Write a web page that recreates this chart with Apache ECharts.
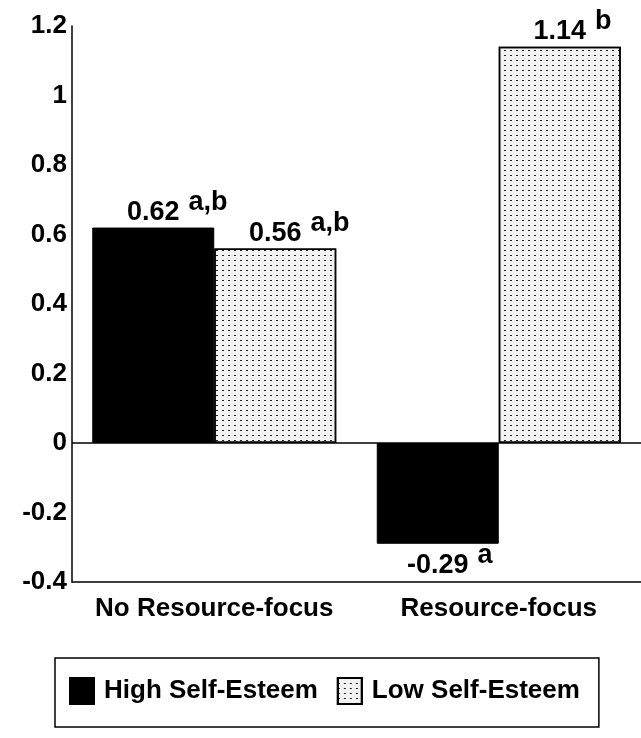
<!DOCTYPE html>
<html>
<head>
<meta charset="utf-8">
<script src="https://cdn.jsdelivr.net/npm/echarts@6/dist/echarts.min.js"></script>
<style>
html,body{margin:0;padding:0;background:#fff;}
#chart{width:641px;height:738px;}
</style>
</head>
<body>
<div id="chart"></div>
<script>
const categories = ['No Resource-focus', 'Resource-focus'];
const seriesNames = ['High Self-Esteem', 'Low Self-Esteem'];
const highValues = [0.62, -0.29];
const lowValues = [0.56, 1.14];
const highSup = ['a,b', 'a'];
const lowSup = ['a,b', 'b'];
const yMin = -0.4, yMax = 1.2, yInterval = 0.2;

const FONT = '"Liberation Sans", Arial, sans-serif';

function labelRich() {
  return {
    v: { fontSize: 27, fontWeight: 'bold', fontFamily: FONT, color: '#000', lineHeight: 26, padding: [10, 0, 0, 0] },
    s: { fontSize: 27, fontWeight: 'bold', fontFamily: FONT, color: '#000', lineHeight: 26, padding: [0, 0, 10, 9] },
    h: { fontSize: 27, fontWeight: 'bold', fontFamily: FONT, color: 'transparent', lineHeight: 26, padding: [0, 9, 10, 0] }
  };
}

function buildData(values, sups) {
  return values.map(function (v, i) {
    const txt = '{h|' + sups[i] + '}{v|' + v.toFixed(2) + '}{s|' + sups[i] + '}';
    return {
      value: v,
      label: {
        show: true,
        position: v >= 0 ? 'top' : 'bottom',
        distance: v >= 0 ? 7 : 4,
        formatter: txt,
        rich: labelRich()
      }
    };
  });
}

const chart = echarts.init(document.getElementById('chart'), null, { renderer: 'canvas' });
chart.setOption({
  animation: false,
  backgroundColor: '#fff',
  textStyle: { fontFamily: FONT },
  grid: { left: 72, right: 0, top: 26, bottom: 156, outerBoundsMode: 'none' },
  legend: {
    data: seriesNames,
    left: 55,
    top: 658,
    orient: 'horizontal',
    borderColor: '#000',
    borderWidth: 1.5,
    padding: [19, 19, 22, 14],
    itemWidth: 24,
    itemHeight: 26,
    itemGap: 19,
    icon: 'rect',
    textStyle: { fontSize: 26, fontWeight: 'bold', color: '#000', fontFamily: FONT, padding: [0, 0, 0, 5] }
  },
  xAxis: {
    type: 'category',
    data: categories,
    axisLine: { show: true, onZero: false, lineStyle: { color: '#000', width: 1.5 } },
    axisTick: { show: false },
    axisLabel: { interval: 0, fontSize: 26, fontWeight: 'bold', color: '#000', margin: 14, fontFamily: FONT }
  },
  yAxis: {
    type: 'value',
    min: yMin,
    max: yMax,
    interval: yInterval,
    axisLine: { show: true, lineStyle: { color: '#000', width: 1.5 } },
    axisTick: { show: false },
    splitLine: { show: false },
    axisLabel: { fontSize: 26, fontWeight: 'bold', color: '#000', margin: 5, fontFamily: FONT }
  },
  series: [
    {
      name: seriesNames[0],
      type: 'bar',
      barWidth: 122,
      barGap: '0%',
      itemStyle: { color: '#000', borderColor: '#000', borderWidth: 1 },
      data: buildData(highValues, highSup),
      markLine: {
        silent: true,
        symbol: ['none', 'none'],
        label: { show: false },
        lineStyle: { color: '#000', width: 1.5, type: 'solid' },
        data: [{ yAxis: 0 }]
      }
    },
    {
      name: seriesNames[1],
      type: 'bar',
      barWidth: 122,
      barGap: '0%',
      itemStyle: {
        color: '#f2f2f2',
        borderColor: '#000',
        borderWidth: 1.5,
        decal: {
          symbol: 'rect',
          symbolSize: 1,
          color: '#222',
          dashArrayX: [1.5, 3.5],
          dashArrayY: [1, 4],
          rotation: 0
        }
      },
      data: buildData(lowValues, lowSup)
    }
  ]
});
</script>
</body>
</html>
